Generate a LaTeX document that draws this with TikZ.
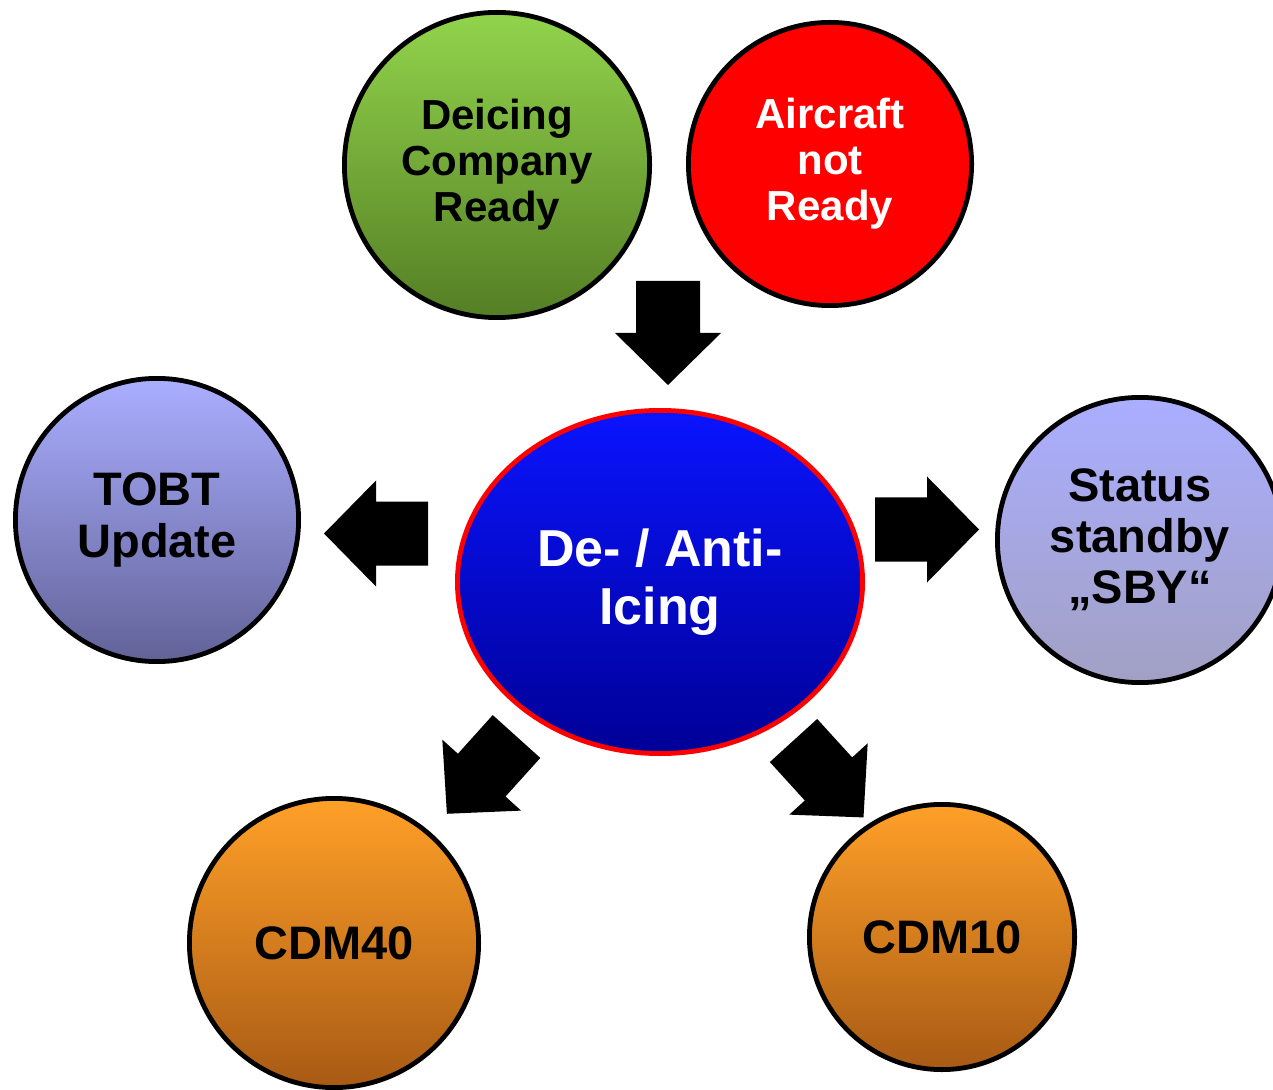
\documentclass[tikz,border=0pt]{standalone}
\usepackage{fontspec}
\setmainfont{Liberation Sans}
\usetikzlibrary{shapes.geometric,positioning}

\definecolor{greentop}{RGB}{146,212,76}
\definecolor{greenbot}{RGB}{84,126,36}
\definecolor{lavtop}{RGB}{170,174,255}
\definecolor{lavbotA}{RGB}{98,98,152}
\definecolor{lavbotB}{RGB}{162,160,196}
\definecolor{orangetop}{RGB}{255,160,40}
\definecolor{orangebot}{RGB}{168,90,20}
\definecolor{bluetop}{RGB}{10,20,255}
\definecolor{bluebot}{RGB}{0,0,150}

\begin{document}
\begin{tikzpicture}[
    x=0.5pt, y=0.5pt,
    bubble/.style={circle, draw=black, line width=2.4pt, inner sep=0pt, align=center, font=\bfseries},
    greenbubble/.style={bubble, top color=greentop, bottom color=greenbot},
    lavbubble/.style={bubble, top color=lavtop},
    orangebubble/.style={bubble, top color=orangetop, bottom color=orangebot},
    blockarrow/.style={fill=black}
]
\useasboundingbox (0,0) rectangle (1273,-1090);
% Top bubbles
\node[greenbubble, minimum size=152.6pt, font=\bfseries\fontsize{21}{23}\selectfont] (deicing) at (497,-165) {Deicing\\Company\\Ready};
\node[bubble, fill=red, text=white, minimum size=141.6pt, font=\bfseries\fontsize{21}{23}\selectfont] (aircraft) at (830,-164) {Aircraft\\not\\Ready};
% Centre
\node[ellipse, draw=red, line width=2.4pt, top color=bluetop, bottom color=bluebot, text=white,
      minimum width=202.6pt, minimum height=171.6pt, inner sep=0pt, align=center,
      font=\bfseries\fontsize{26}{29}\selectfont] (icing) at (660,-582) {De- / Anti-\\Icing};
% Side bubbles
\node[lavbubble, bottom color=lavbotA, minimum size=141.6pt, font=\bfseries\fontsize{23.5}{26}\selectfont] (tobt) at (157,-520) {TOBT\\Update};
\node[lavbubble, bottom color=lavbotB, minimum size=142.6pt, font=\bfseries\fontsize{23.5}{25.5}\selectfont] (sby) at (1140,-540) {Status\\standby\\„SBY“};
% Bottom bubbles
\node[orangebubble, minimum size=144.6pt, font=\bfseries\fontsize{23.5}{26}\selectfont] (cdm40) at (334,-943) {CDM40};
\node[orangebubble, minimum size=132.6pt, font=\bfseries\fontsize{23.5}{26}\selectfont] (cdm10) at (942,-937) {CDM10};
% Block arrows
\foreach \bx/\by/\ang in {668/281/-90, 428/533.5/180, 875/529.5/0, 516.5/736.5/228, 793.5/740.5/-47.7} {
    \fill[blockarrow, shift={(\bx,-\by)}, rotate=\ang]
        (0,-32) -- (52,-32) -- (52,-53) -- (104,0) -- (52,53) -- (52,32) -- (0,32) -- cycle;
}
\end{tikzpicture}
\end{document}
